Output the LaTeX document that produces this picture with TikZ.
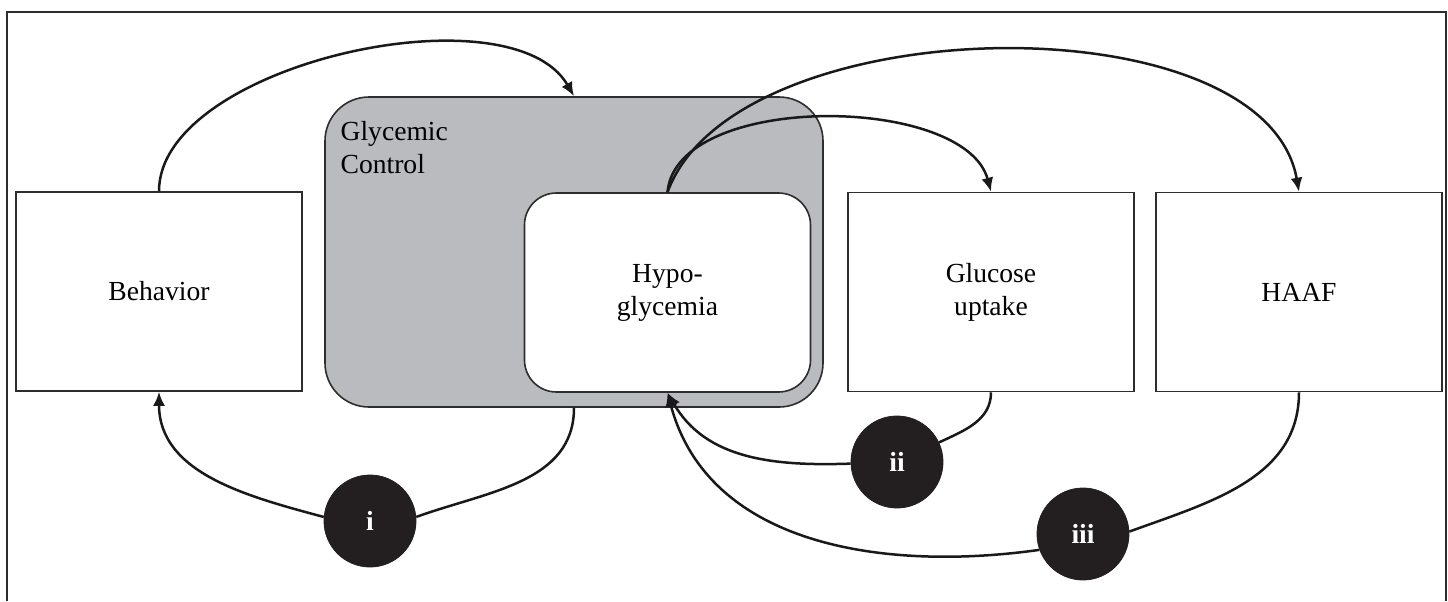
\documentclass[tikz,border=0pt]{standalone}
\usepackage{fontspec}
\setmainfont{Liberation Serif}
\usetikzlibrary{arrows.meta}
\definecolor{glycgray}{RGB}{186,187,191}
\definecolor{dotblack}{RGB}{35,31,32}
\definecolor{edgegray}{RGB}{45,45,45}
\tikzset{
	box/.style={draw=edgegray, line width=0.8pt, fill=white, minimum width=143pt, minimum height=99.5pt, align=center, inner sep=0pt},
	rbox/.style={box, rounded corners=16pt},
	dot/.style={circle, fill=dotblack, draw=dotblack, minimum size=46pt, inner sep=0pt, text=white, font=\fontsize{13.8pt}{16.5pt}\selectfont\bfseries},
	link/.style={line width=1.25pt, black!90},
	arr/.style={link, -{Latex[length=7pt,width=6pt]}},
}
\begin{document}
\begin{tikzpicture}[x=0.5pt,y=-0.5pt,font=\fontsize{13.8pt}{16.5pt}\selectfont]
	\useasboundingbox (0,0) rectangle (1448,601);
	\draw [edgegray, line width=0.9pt] (7,601) -- (7,12) -- (1446,12) -- (1446,601);
	% boxes
	\node [box] (beh) at (159,291.5) {Behavior};
	\node [rbox, fill=glycgray, rounded corners=22pt, minimum width=249pt, minimum height=155pt] (glyc) at (574,252) {};
	\node [anchor=north west, inner sep=0pt, align=left] (glyctext) at ([xshift=8pt,yshift=-12.5pt]glyc.north west) {Glycemic\\Control};
	\node [rbox] (hypo) at (667.5,292.5) {Hypo-\\glycemia};
	\node [box] (gluc) at (991,292) {Glucose\\uptake};
	\node [box] (haaf) at (1299,292) {HAAF};
	% feedback loops
	\node [dot] (i) at (370,521) {i};
	\node [dot] (ii) at (897,462) {ii};
	\node [dot] (iii) at (1083,534) {iii};
	\draw [arr] (beh.north) to[out=90, in=120, looseness=0.76] (glyc.north);
	\draw [arr] (hypo.north) to[out=85, in=105, looseness=0.8] (gluc.north);
	\draw [arr] (hypo.north) to[out=70, in=100, looseness=0.8] (haaf.north);
	\draw [link] (glyc.south) to[out=-90, in=20] (i.5);
	\draw [arr] (i.175) to[out=165, in=-90] (beh.south);
	\draw [link] (gluc.south) to[out=-90, in=25] (ii.25);
	\draw [arr] (ii.182) to[out=182, in=-60] (hypo.south);
	\draw [link] (haaf.south) to[out=-90, in=20] (iii.3);
	\draw [arr] (iii.200) to[out=188, in=-75] (hypo.south);
\end{tikzpicture}
\end{document}
